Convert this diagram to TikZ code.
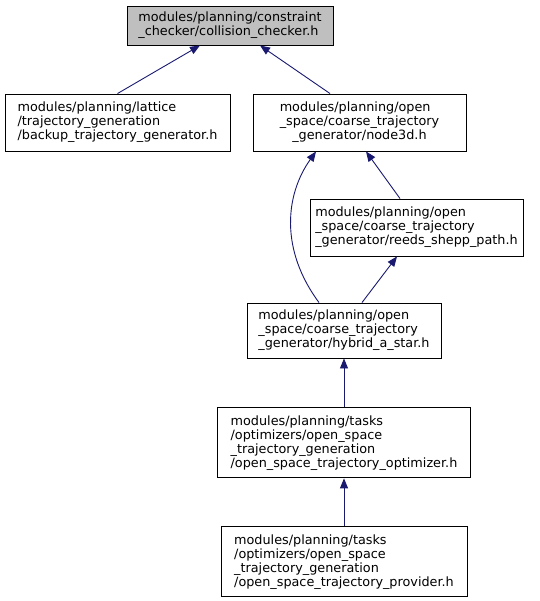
\documentclass[tikz,border=0pt]{standalone}
\usepackage{fontspec}
\setmainfont{DejaVu Sans}
\usepackage{xcolor}
\usepackage{tikz}
\usetikzlibrary{positioning}
\usetikzlibrary{arrows.meta}
\definecolor{edgeblue}{HTML}{191970}
\definecolor{rootgray}{HTML}{BFBFBF}
\tikzset {
  % header file box
  file/.style = {draw=black, rectangle, align=left, inner sep=0pt, line width=0.9pt,
    font=\fontsize{12.8}{14}\selectfont},
  % the file whose includers are shown
  current/.style = {file, fill=rootgray},
  % include edge, arrow points to the included file
  incl/.style = {edgeblue, line width=0.9pt, -{Triangle[length=10pt,width=8pt]}},
}

\begin{document}
\begin{tikzpicture}[x=1pt, y=-1pt]
      \useasboundingbox (0,0) rectangle (539,601);

      \node[current, minimum width=206pt, minimum height=39pt] (checker) at (230,25.5)
        {modules/planning/constraint\\\_checker/collision\_checker.h};
      \node[file, minimum width=225pt, minimum height=57pt] (backup) at (117.5,122.5)
        {modules/planning/lattice\\/trajectory\_generation\\/backup\_trajectory\_generator.h};
      \node[file, minimum width=213pt, minimum height=57pt] (node3d) at (359.5,122.5)
        {\begin{tabular}{@{}l@{}}modules/planning/open\\\_space/coarse\_trajectory\\
         \multicolumn{1}{@{}c@{}}{\_generator/node3d.h}\end{tabular}};
      \node[file, minimum width=213pt, minimum height=57pt] (reeds) at (416.5,227.5)
        {modules/planning/open\\\_space/coarse\_trajectory\\\_generator/reeds\_shepp\_path.h};
      \node[file, minimum width=194pt, minimum height=55pt] (hybrid) at (344,330.5)
        {modules/planning/open\\\_space/coarse\_trajectory\\\_generator/hybrid\_a\_star.h};
      \node[file, minimum width=253pt, minimum height=70pt] (optimizer) [below=49pt of hybrid]
        {modules/planning/tasks\\/optimizers/open\_space\\\_trajectory\_generation\\/open\_space\_trajectory\_optimizer.h};
      \node[file, minimum width=246pt, minimum height=70pt] (provider) [below=48pt of optimizer]
        {modules/planning/tasks\\/optimizers/open\_space\\\_trajectory\_generation\\/open\_space\_trajectory\_provider.h};

      \draw[incl] (backup.north) -- ([xshift=-30pt]checker.south);
      \draw[incl] ([xshift=-29.5pt]node3d.north) -- ([xshift=30pt]checker.south);
      \draw[incl] ([xshift=-16.5pt]reeds.north) -- ([xshift=6.5pt]node3d.south);
      \draw[incl] ([xshift=-25pt]hybrid.north) .. controls (280,250) and (285,195) .. ([xshift=-43.5pt]node3d.south);
      \draw[incl] ([xshift=18pt]hybrid.north) -- ([xshift=-19.5pt]reeds.south);
      \draw[incl] (optimizer) -- (hybrid);
      \draw[incl] (provider) -- (optimizer);
    \end{tikzpicture}
\end{document}
